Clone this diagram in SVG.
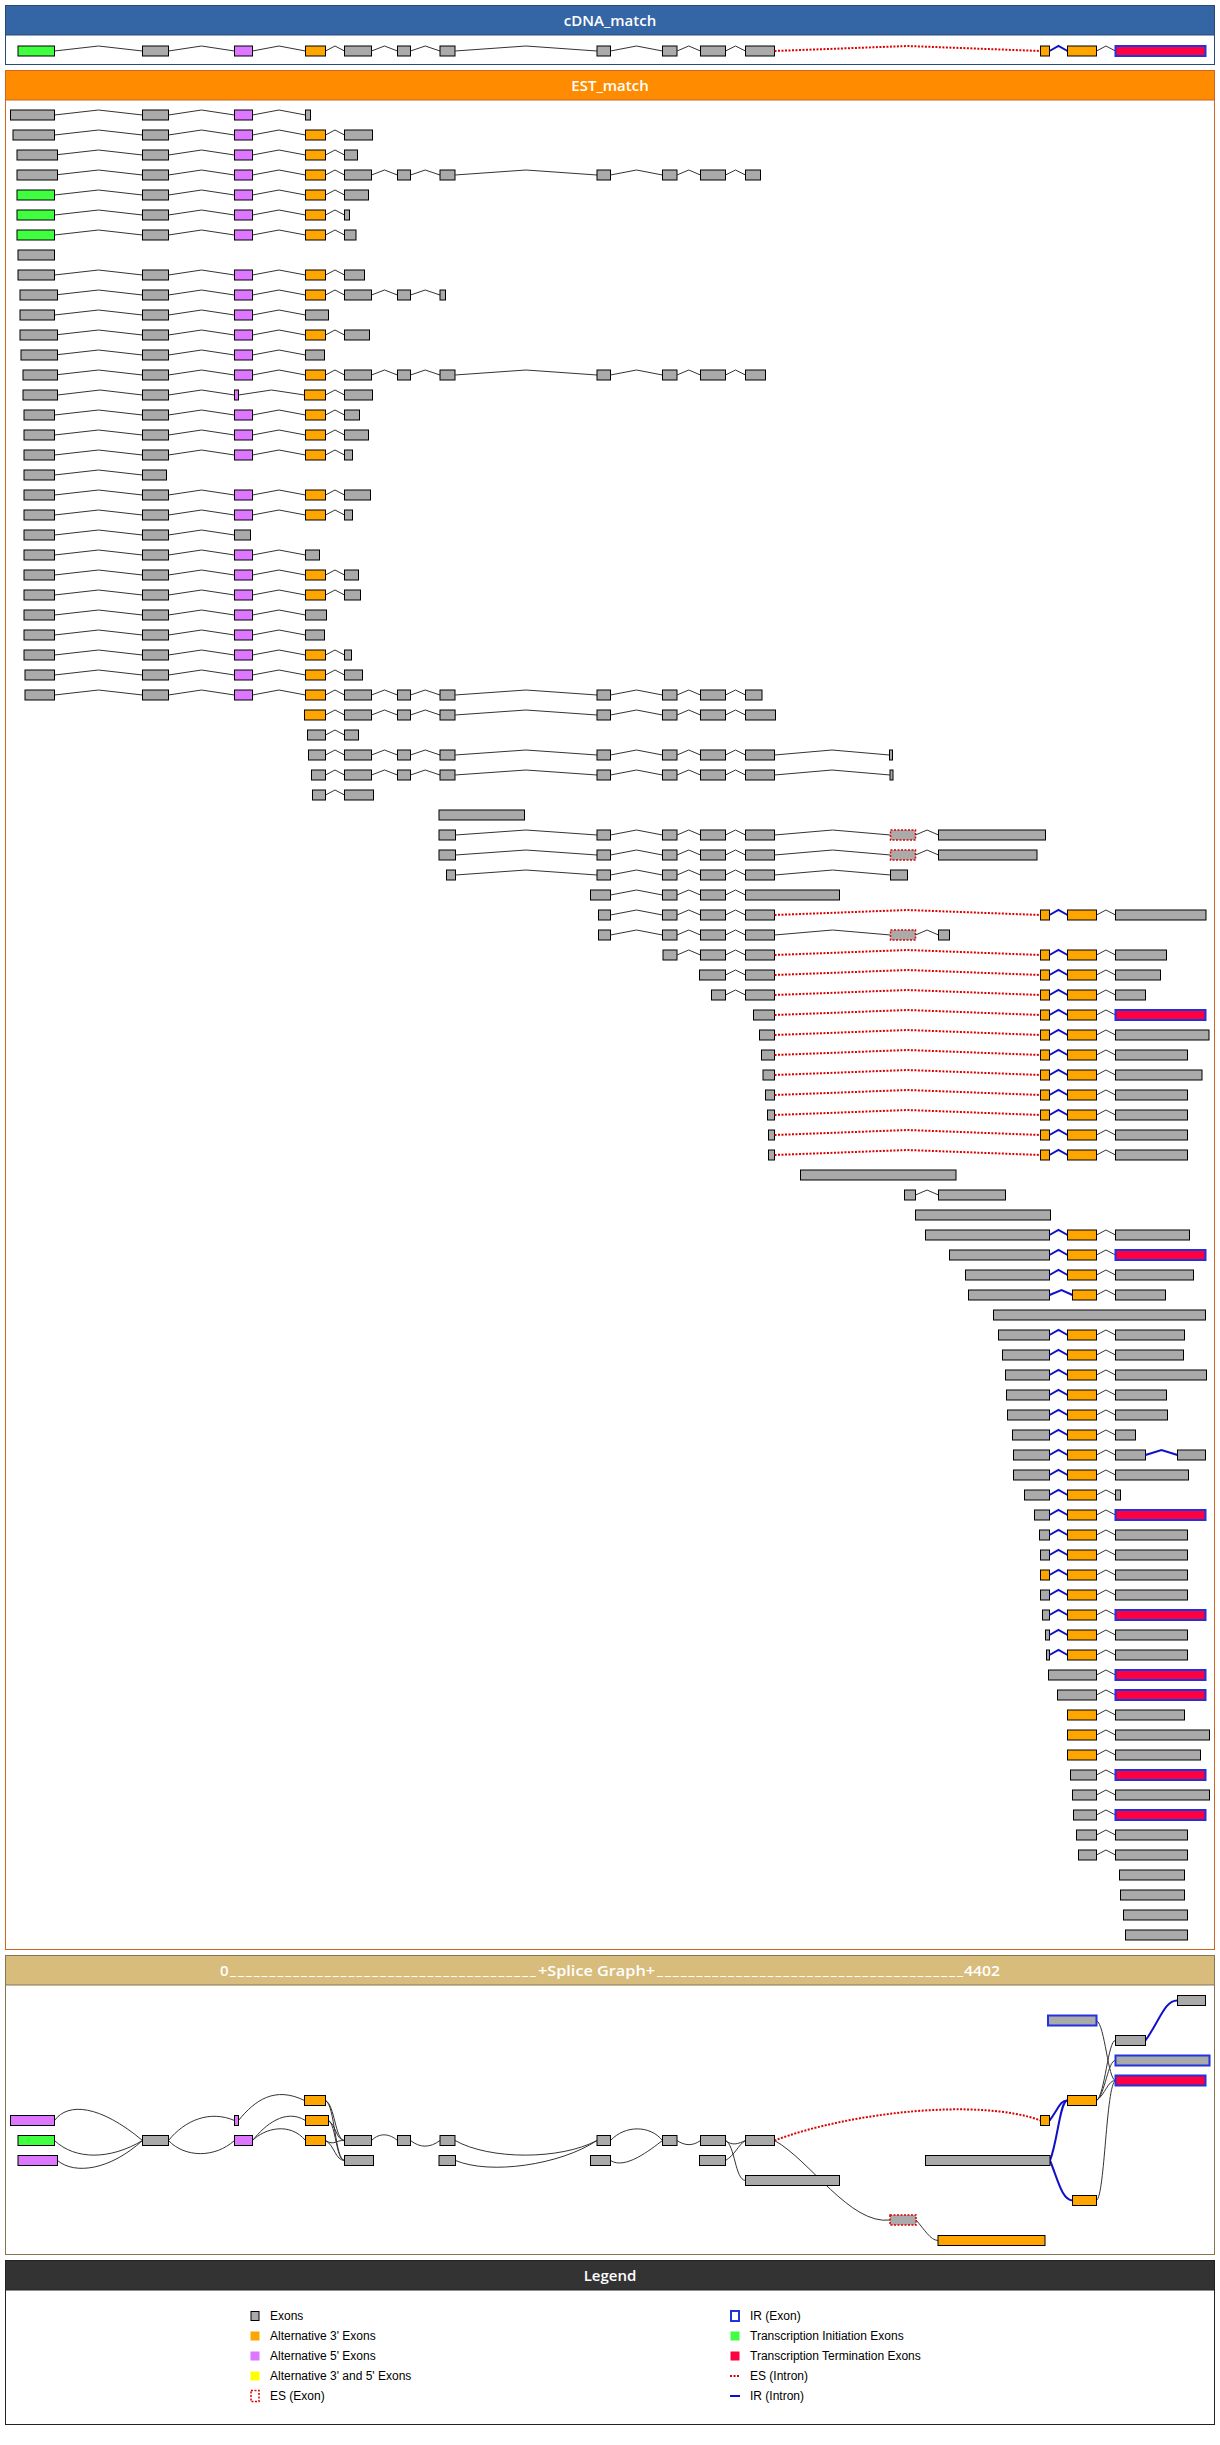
<svg xmlns="http://www.w3.org/2000/svg" width="1220" height="2445" viewBox="0 0 1220 2445">
<style>
.x{fill:#AAAAAA;stroke:#000;stroke-width:1}
.o{fill:#FFA500;stroke:#000;stroke-width:1}
.p{fill:#DD77FF;stroke:#000;stroke-width:1}
.g{fill:#40FF40;stroke:#000;stroke-width:1}
.t{fill:#FF0040;stroke:#2233DD;stroke-width:2}
.ir{fill:#AAAAAA;stroke:#2233DD;stroke-width:2}
.s{fill:#AAAAAA;stroke:#DD0000;stroke-width:1.5;stroke-dasharray:2 1.5}
.i{fill:none;stroke:#333;stroke-width:1}
.b{fill:none;stroke:#1010CC;stroke-width:2}
.r{fill:none;stroke:#DD0000;stroke-width:2;stroke-dasharray:2 1.5}
.h{fill:#fff;font-family:"Open Sans","DejaVu Sans",sans-serif;font-size:15px;font-weight:600;text-anchor:middle}
.l{fill:#000;font-family:"Liberation Sans",Arial,sans-serif;font-size:12px}
</style>
<defs>
<g id="L">
<polyline class="i" points="54.5,0 98.5,-5 142.5,0"/>
<rect class="x" x="142.5" y="-5" width="26" height="10"/>
<polyline class="i" points="168.5,0 201.5,-5 234.5,0"/>
<rect class="p" x="234.5" y="-5" width="18" height="10"/>
<polyline class="i" points="252.5,0 279,-5 305.5,0"/>
</g>
<g id="D">
<rect class="o" x="305.5" y="-5" width="20" height="10"/>
<polyline class="i" points="325.5,0 335,-5 344.5,0"/>
</g>
<polyline id="de" class="i" points="325.5,0 335,-5 344.5,0"/>
<g id="EG">
<rect class="x" x="344.5" y="-5" width="27" height="10"/>
<polyline class="i" points="371.5,0 384.5,-5 397.5,0"/>
<rect class="x" x="397.5" y="-5" width="13" height="10"/>
<polyline class="i" points="410.5,0 425.25,-5 440,0"/>
<rect class="x" x="440" y="-5" width="15" height="10"/>
<polyline class="i" points="455,0 526,-5 597,0"/>
</g>
<g id="IJ">
<polyline class="i" points="610.5,0 636.5,-5 662.5,0"/>
<rect class="x" x="662.5" y="-5" width="14.5" height="10"/>
<polyline class="i" points="677,0 688.75,-5 700.5,0"/>
<rect class="x" x="700.5" y="-5" width="25" height="10"/>
<polyline class="i" points="725.5,0 735.5,-5 745.5,0"/>
</g>
<g id="HJ">
<rect class="x" x="597" y="-5" width="13.5" height="10"/>
<use href="#IJ"/>
</g>
<rect id="K" class="x" x="745.5" y="-5" width="29" height="10"/>
<g id="N">
<polyline class="b" points="1049.5,0 1058.5,-5 1067.5,0"/>
<rect class="o" x="1067.5" y="-5" width="29" height="10"/>
<polyline class="i" points="1096.5,0 1106,-5 1115.5,0"/>
</g>
<g id="T">
<polyline class="r" points="774.5,0 907.5,-5 1040.5,0"/>
<rect class="o" x="1040.5" y="-5" width="9" height="10"/>
<use href="#N"/>
</g>
<polyline id="Bk" class="i" points="1096.5,0 1106,-5 1115.5,0"/>
<rect id="Tm" class="t" x="1115.5" y="-5" width="90" height="10"/>
</defs>

<!-- cDNA panel -->
<g id="cdna-panel">
<rect x="5.5" y="5.5" width="1209" height="59" fill="#fff" stroke="#2A4A78"/>
<rect x="5.5" y="5.5" width="1209" height="29.5" fill="#3465A4" stroke="#2A4A78"/>
<text class="h" x="610" y="25.5">cDNA_match</text>
</g>
<g id="cdna1">
<use href="#L" y="51"/>
<rect class="g" x="18" y="46" width="36.5" height="10"/>
<use href="#D" y="51"/><use href="#EG" y="51"/><use href="#HJ" y="51"/><use href="#K" y="51"/><use href="#T" y="51"/><use href="#Tm" y="51"/>
</g>

<!-- EST panel -->
<g id="est-panel">
<rect x="5.5" y="70.5" width="1209" height="1879" fill="#fff" stroke="#CC6622"/>
<rect x="5.5" y="70.5" width="1209" height="29.5" fill="#FF8C00" stroke="#CC6622"/>
<text class="h" x="610" y="91">EST_match</text>
</g>
<g id="est1"><use href="#L" y="115"/><rect class="x" x="10.5" y="110" width="44" height="10"/><rect class="x" x="305.5" y="110" width="5" height="10"/></g>
<g id="est2"><use href="#L" y="135"/><use href="#D" y="135"/><rect class="x" x="13" y="130" width="41.5" height="10"/><rect class="x" x="344.5" y="130" width="28" height="10"/></g>
<g id="est3"><use href="#L" y="155"/><use href="#D" y="155"/><rect class="x" x="17" y="150" width="40.5" height="10"/><rect class="x" x="344.5" y="150" width="13" height="10"/></g>
<g id="est4"><use href="#L" y="175"/><use href="#D" y="175"/><use href="#EG" y="175"/><use href="#HJ" y="175"/><rect class="x" x="17" y="170" width="40.5" height="10"/><rect class="x" x="745.5" y="170" width="15" height="10"/></g>
<g id="est5"><use href="#L" y="195"/><use href="#D" y="195"/><rect class="g" x="17" y="190" width="37.5" height="10"/><rect class="x" x="344.5" y="190" width="24" height="10"/></g>
<g id="est6"><use href="#L" y="215"/><use href="#D" y="215"/><rect class="g" x="17" y="210" width="37.5" height="10"/><rect class="x" x="344.5" y="210" width="5" height="10"/></g>
<g id="est7"><use href="#L" y="235"/><use href="#D" y="235"/><rect class="g" x="17" y="230" width="37.5" height="10"/><rect class="x" x="344.5" y="230" width="11.5" height="10"/></g>
<g id="est8"><rect class="x" x="18" y="250" width="36.5" height="10"/></g>
<g id="est9"><use href="#L" y="275"/><use href="#D" y="275"/><rect class="x" x="18" y="270" width="36.5" height="10"/><rect class="x" x="344.5" y="270" width="20" height="10"/></g>
<g id="est10"><use href="#L" y="295"/><use href="#D" y="295"/><rect class="x" x="20" y="290" width="37.5" height="10"/><rect class="x" x="344.5" y="290" width="27" height="10"/><polyline class="i" points="371.5,295 384.5,290 397.5,295"/><rect class="x" x="397.5" y="290" width="13" height="10"/><polyline class="i" points="410.5,295 425.25,290 440,295"/><rect class="x" x="440" y="290" width="5.5" height="10"/></g>
<g id="est11"><use href="#L" y="315"/><rect class="x" x="20" y="310" width="34.5" height="10"/><rect class="x" x="305.5" y="310" width="23" height="10"/></g>
<g id="est12"><use href="#L" y="335"/><use href="#D" y="335"/><rect class="x" x="20" y="330" width="37.5" height="10"/><rect class="x" x="344.5" y="330" width="25" height="10"/></g>
<g id="est13"><use href="#L" y="355"/><rect class="x" x="21" y="350" width="36.5" height="10"/><rect class="x" x="305.5" y="350" width="19" height="10"/></g>
<g id="est14"><use href="#L" y="375"/><use href="#D" y="375"/><use href="#EG" y="375"/><use href="#HJ" y="375"/><rect class="x" x="23" y="370" width="34.5" height="10"/><rect class="x" x="745.5" y="370" width="20" height="10"/></g>
<g id="est15"><rect class="x" x="23" y="390" width="34.5" height="10"/><polyline class="i" points="57.5,395 100,390 142.5,395"/><rect class="x" x="142.5" y="390" width="26" height="10"/><polyline class="i" points="168.5,395 201.5,390 234.5,395"/><rect class="p" x="234.5" y="390" width="4" height="10"/><polyline class="i" points="238.5,395 271.5,390 304.5,395"/><rect class="o" x="304.5" y="390" width="21" height="10"/><use href="#de" y="395"/><rect class="x" x="344.5" y="390" width="28" height="10"/></g>
<g id="est16"><use href="#L" y="415"/><use href="#D" y="415"/><rect class="x" x="24" y="410" width="30.5" height="10"/><rect class="x" x="344.5" y="410" width="15" height="10"/></g>
<g id="est17"><use href="#L" y="435"/><use href="#D" y="435"/><rect class="x" x="24" y="430" width="30.5" height="10"/><rect class="x" x="344.5" y="430" width="24" height="10"/></g>
<g id="est18"><use href="#L" y="455"/><use href="#D" y="455"/><rect class="x" x="24" y="450" width="30.5" height="10"/><rect class="x" x="344.5" y="450" width="8" height="10"/></g>
<g id="est19"><rect class="x" x="24" y="470" width="30.5" height="10"/><polyline class="i" points="54.5,475 98.5,470 142.5,475"/><rect class="x" x="142.5" y="470" width="24" height="10"/></g>
<g id="est20"><use href="#L" y="495"/><use href="#D" y="495"/><rect class="x" x="24" y="490" width="30.5" height="10"/><rect class="x" x="344.5" y="490" width="26" height="10"/></g>
<g id="est21"><use href="#L" y="515"/><use href="#D" y="515"/><rect class="x" x="24" y="510" width="30.5" height="10"/><rect class="x" x="344.5" y="510" width="8" height="10"/></g>
<g id="est22"><rect class="x" x="24" y="530" width="30.5" height="10"/><polyline class="i" points="54.5,535 98.5,530 142.5,535"/><rect class="x" x="142.5" y="530" width="26" height="10"/><polyline class="i" points="168.5,535 201.5,530 234.5,535"/><rect class="x" x="234.5" y="530" width="16" height="10"/></g>
<g id="est23"><use href="#L" y="555"/><rect class="x" x="24" y="550" width="30.5" height="10"/><rect class="x" x="305.5" y="550" width="14" height="10"/></g>
<g id="est24"><use href="#L" y="575"/><use href="#D" y="575"/><rect class="x" x="24" y="570" width="30.5" height="10"/><rect class="x" x="344.5" y="570" width="14" height="10"/></g>
<g id="est25"><use href="#L" y="595"/><use href="#D" y="595"/><rect class="x" x="24" y="590" width="30.5" height="10"/><rect class="x" x="344.5" y="590" width="16" height="10"/></g>
<g id="est26"><use href="#L" y="615"/><rect class="x" x="24" y="610" width="30.5" height="10"/><rect class="x" x="305.5" y="610" width="21" height="10"/></g>
<g id="est27"><use href="#L" y="635"/><rect class="x" x="24" y="630" width="30.5" height="10"/><rect class="x" x="305.5" y="630" width="19" height="10"/></g>
<g id="est28"><use href="#L" y="655"/><use href="#D" y="655"/><rect class="x" x="24" y="650" width="30.5" height="10"/><rect class="x" x="344.5" y="650" width="7" height="10"/></g>
<g id="est29"><use href="#L" y="675"/><use href="#D" y="675"/><rect class="x" x="25" y="670" width="29.5" height="10"/><rect class="x" x="344.5" y="670" width="18" height="10"/></g>
<g id="est30"><use href="#L" y="695"/><use href="#D" y="695"/><use href="#EG" y="695"/><use href="#HJ" y="695"/><rect class="x" x="25" y="690" width="29.5" height="10"/><rect class="x" x="745.5" y="690" width="16.5" height="10"/></g>
<g id="est31"><rect class="o" x="304.5" y="710" width="21" height="10"/><use href="#de" y="715"/><use href="#EG" y="715"/><use href="#HJ" y="715"/><rect class="x" x="745.5" y="710" width="30" height="10"/></g>
<g id="est32"><rect class="x" x="307.5" y="730" width="18" height="10"/><use href="#de" y="735"/><rect class="x" x="344.5" y="730" width="14" height="10"/></g>
<g id="est33"><rect class="x" x="308.5" y="750" width="17" height="10"/><use href="#de" y="755"/><use href="#EG" y="755"/><use href="#HJ" y="755"/><use href="#K" y="755"/><polyline class="i" points="774.5,755 832,750 889.5,755"/><rect class="x" x="889.5" y="750" width="3" height="10"/></g>
<g id="est34"><rect class="x" x="311.5" y="770" width="14" height="10"/><use href="#de" y="775"/><use href="#EG" y="775"/><use href="#HJ" y="775"/><use href="#K" y="775"/><polyline class="i" points="774.5,775 832,770 890,775"/><rect class="x" x="890" y="770" width="3" height="10"/></g>
<g id="est35"><rect class="x" x="312.5" y="790" width="13" height="10"/><use href="#de" y="795"/><rect class="x" x="344.5" y="790" width="29" height="10"/></g>
<g id="est36"><rect class="x" x="439" y="810" width="85.5" height="10"/></g>
<g id="est37"><rect class="x" x="439" y="830" width="16.5" height="10"/><polyline class="i" points="455.5,835 526,830 597,835"/><use href="#HJ" y="835"/><use href="#K" y="835"/><polyline class="i" points="774.5,835 832.5,830 890.5,835"/><rect class="s" x="890.5" y="830" width="25" height="10"/><polyline class="i" points="915.5,835 927,830 938.5,835"/><rect class="x" x="938.5" y="830" width="107" height="10"/></g>
<g id="est38"><rect class="x" x="439" y="850" width="16.5" height="10"/><polyline class="i" points="455.5,855 526,850 597,855"/><use href="#HJ" y="855"/><use href="#K" y="855"/><polyline class="i" points="774.5,855 832.5,850 890.5,855"/><rect class="s" x="890.5" y="850" width="25" height="10"/><polyline class="i" points="915.5,855 927,850 938.5,855"/><rect class="x" x="938.5" y="850" width="98.5" height="10"/></g>
<g id="est39"><rect class="x" x="446.5" y="870" width="9" height="10"/><polyline class="i" points="455.5,875 526,870 597,875"/><use href="#HJ" y="875"/><use href="#K" y="875"/><polyline class="i" points="774.5,875 832.5,870 890.5,875"/><rect class="x" x="890.5" y="870" width="17" height="10"/></g>
<g id="est40"><rect class="x" x="590.5" y="890" width="20" height="10"/><use href="#IJ" y="895"/><rect class="x" x="745.5" y="890" width="94" height="10"/></g>
<g id="est41"><rect class="x" x="598.5" y="910" width="12" height="10"/><use href="#IJ" y="915"/><use href="#K" y="915"/><use href="#T" y="915"/><rect class="x" x="1115.5" y="910" width="90.5" height="10"/></g>
<g id="est42"><rect class="x" x="598.5" y="930" width="12" height="10"/><use href="#IJ" y="935"/><use href="#K" y="935"/><polyline class="i" points="774.5,935 832.5,930 890.5,935"/><rect class="s" x="890.5" y="930" width="25" height="10"/><polyline class="i" points="915.5,935 927,930 938.5,935"/><rect class="x" x="938.5" y="930" width="11" height="10"/></g>
<g id="est43"><rect class="x" x="663" y="950" width="14" height="10"/><polyline class="i" points="677,955 688.75,950 700.5,955"/><rect class="x" x="700.5" y="950" width="25" height="10"/><polyline class="i" points="725.5,955 735.5,950 745.5,955"/><use href="#K" y="955"/><use href="#T" y="955"/><rect class="x" x="1115.5" y="950" width="51" height="10"/></g>
<g id="est44"><rect class="x" x="699.5" y="970" width="26" height="10"/><polyline class="i" points="725.5,975 735.5,970 745.5,975"/><use href="#K" y="975"/><use href="#T" y="975"/><rect class="x" x="1115.5" y="970" width="45" height="10"/></g>
<g id="est45"><rect class="x" x="711.5" y="990" width="14" height="10"/><polyline class="i" points="725.5,995 735.5,990 745.5,995"/><use href="#K" y="995"/><use href="#T" y="995"/><rect class="x" x="1115.5" y="990" width="30" height="10"/></g>
<g id="est46"><rect class="x" x="753.5" y="1010" width="21" height="10"/><use href="#T" y="1015"/><use href="#Tm" y="1015"/></g>
<g id="est47"><rect class="x" x="759.5" y="1030" width="15" height="10"/><use href="#T" y="1035"/><rect class="x" x="1115.5" y="1030" width="93.5" height="10"/></g>
<g id="est48"><rect class="x" x="761.5" y="1050" width="13" height="10"/><use href="#T" y="1055"/><rect class="x" x="1115.5" y="1050" width="72" height="10"/></g>
<g id="est49"><rect class="x" x="763" y="1070" width="11.5" height="10"/><use href="#T" y="1075"/><rect class="x" x="1115.5" y="1070" width="86.5" height="10"/></g>
<g id="est50"><rect class="x" x="765.5" y="1090" width="9" height="10"/><use href="#T" y="1095"/><rect class="x" x="1115.5" y="1090" width="72" height="10"/></g>
<g id="est51"><rect class="x" x="767.5" y="1110" width="7" height="10"/><use href="#T" y="1115"/><rect class="x" x="1115.5" y="1110" width="72" height="10"/></g>
<g id="est52"><rect class="x" x="768.5" y="1130" width="6" height="10"/><use href="#T" y="1135"/><rect class="x" x="1115.5" y="1130" width="72" height="10"/></g>
<g id="est53"><rect class="x" x="768.5" y="1150" width="6" height="10"/><use href="#T" y="1155"/><rect class="x" x="1115.5" y="1150" width="72" height="10"/></g>
<g id="est54"><rect class="x" x="800.5" y="1170" width="155.5" height="10"/></g>
<g id="est55"><rect class="x" x="904.5" y="1190" width="11" height="10"/><polyline class="i" points="915.5,1195 927,1190 938.5,1195"/><rect class="x" x="938.5" y="1190" width="67" height="10"/></g>
<g id="est56"><rect class="x" x="915.5" y="1210" width="135" height="10"/></g>
<g id="est57"><rect class="x" x="925.5" y="1230" width="124" height="10"/><use href="#N" y="1235"/><rect class="x" x="1115.5" y="1230" width="74" height="10"/></g>
<g id="est58"><rect class="x" x="949.5" y="1250" width="100" height="10"/><use href="#N" y="1255"/><use href="#Tm" y="1255"/></g>
<g id="est59"><rect class="x" x="965.5" y="1270" width="84" height="10"/><use href="#N" y="1275"/><rect class="x" x="1115.5" y="1270" width="78" height="10"/></g>
<g id="est60"><rect class="x" x="968.5" y="1290" width="81" height="10"/><polyline class="b" points="1049.5,1295 1061.5,1290 1072.5,1295"/><rect class="o" x="1072.5" y="1290" width="24" height="10"/><use href="#Bk" y="1295"/><rect class="x" x="1115.5" y="1290" width="50" height="10"/></g>
<g id="est61"><rect class="x" x="993.5" y="1310" width="212" height="10"/></g>
<g id="est62"><rect class="x" x="998.5" y="1330" width="51" height="10"/><use href="#N" y="1335"/><rect class="x" x="1115.5" y="1330" width="69" height="10"/></g>
<g id="est63"><rect class="x" x="1002.5" y="1350" width="47" height="10"/><use href="#N" y="1355"/><rect class="x" x="1115.5" y="1350" width="68" height="10"/></g>
<g id="est64"><rect class="x" x="1005.5" y="1370" width="44" height="10"/><use href="#N" y="1375"/><rect class="x" x="1115.5" y="1370" width="91" height="10"/></g>
<g id="est65"><rect class="x" x="1006.5" y="1390" width="43" height="10"/><use href="#N" y="1395"/><rect class="x" x="1115.5" y="1390" width="51" height="10"/></g>
<g id="est66"><rect class="x" x="1007.5" y="1410" width="42" height="10"/><use href="#N" y="1415"/><rect class="x" x="1115.5" y="1410" width="52" height="10"/></g>
<g id="est67"><rect class="x" x="1012.5" y="1430" width="37" height="10"/><use href="#N" y="1435"/><rect class="x" x="1115.5" y="1430" width="20" height="10"/></g>
<g id="est68"><rect class="x" x="1013.5" y="1450" width="36" height="10"/><use href="#N" y="1455"/><rect class="x" x="1115.5" y="1450" width="30" height="10"/><polyline class="b" points="1145.5,1455 1161.5,1450 1177.5,1455"/><rect class="x" x="1177.5" y="1450" width="28" height="10"/></g>
<g id="est69"><rect class="x" x="1013.5" y="1470" width="36" height="10"/><use href="#N" y="1475"/><rect class="x" x="1115.5" y="1470" width="73" height="10"/></g>
<g id="est70"><rect class="x" x="1024.5" y="1490" width="25" height="10"/><use href="#N" y="1495"/><rect class="x" x="1115.5" y="1490" width="5" height="10"/></g>
<g id="est71"><rect class="x" x="1034.5" y="1510" width="15" height="10"/><use href="#N" y="1515"/><use href="#Tm" y="1515"/></g>
<g id="est72"><rect class="x" x="1039.5" y="1530" width="10" height="10"/><use href="#N" y="1535"/><rect class="x" x="1115.5" y="1530" width="72" height="10"/></g>
<g id="est73"><rect class="x" x="1040.5" y="1550" width="9" height="10"/><use href="#N" y="1555"/><rect class="x" x="1115.5" y="1550" width="72" height="10"/></g>
<g id="est74"><rect class="o" x="1040.5" y="1570" width="9" height="10"/><use href="#N" y="1575"/><rect class="x" x="1115.5" y="1570" width="72" height="10"/></g>
<g id="est75"><rect class="x" x="1040.5" y="1590" width="9" height="10"/><use href="#N" y="1595"/><rect class="x" x="1115.5" y="1590" width="72" height="10"/></g>
<g id="est76"><rect class="x" x="1042.5" y="1610" width="7" height="10"/><use href="#N" y="1615"/><use href="#Tm" y="1615"/></g>
<g id="est77"><rect class="x" x="1045.5" y="1630" width="4" height="10"/><use href="#N" y="1635"/><rect class="x" x="1115.5" y="1630" width="72" height="10"/></g>
<g id="est78"><rect class="x" x="1046.5" y="1650" width="3" height="10"/><use href="#N" y="1655"/><rect class="x" x="1115.5" y="1650" width="72" height="10"/></g>
<g id="est79"><rect class="x" x="1048.5" y="1670" width="48" height="10"/><use href="#Bk" y="1675"/><use href="#Tm" y="1675"/></g>
<g id="est80"><rect class="x" x="1057.5" y="1690" width="39" height="10"/><use href="#Bk" y="1695"/><use href="#Tm" y="1695"/></g>
<g id="est81"><rect class="o" x="1067.5" y="1710" width="29" height="10"/><use href="#Bk" y="1715"/><rect class="x" x="1115.5" y="1710" width="69" height="10"/></g>
<g id="est82"><rect class="o" x="1067.5" y="1730" width="29" height="10"/><use href="#Bk" y="1735"/><rect class="x" x="1115.5" y="1730" width="94" height="10"/></g>
<g id="est83"><rect class="o" x="1067.5" y="1750" width="29" height="10"/><use href="#Bk" y="1755"/><rect class="x" x="1115.5" y="1750" width="85" height="10"/></g>
<g id="est84"><rect class="x" x="1070.5" y="1770" width="26" height="10"/><use href="#Bk" y="1775"/><use href="#Tm" y="1775"/></g>
<g id="est85"><rect class="x" x="1072.5" y="1790" width="24" height="10"/><use href="#Bk" y="1795"/><rect class="x" x="1115.5" y="1790" width="94" height="10"/></g>
<g id="est86"><rect class="x" x="1073.5" y="1810" width="23" height="10"/><use href="#Bk" y="1815"/><use href="#Tm" y="1815"/></g>
<g id="est87"><rect class="x" x="1076.5" y="1830" width="20" height="10"/><use href="#Bk" y="1835"/><rect class="x" x="1115.5" y="1830" width="72" height="10"/></g>
<g id="est88"><rect class="x" x="1078.5" y="1850" width="18" height="10"/><use href="#Bk" y="1855"/><rect class="x" x="1115.5" y="1850" width="72" height="10"/></g>
<g id="est89"><rect class="x" x="1119.5" y="1870" width="65" height="10"/></g>
<g id="est90"><rect class="x" x="1120.5" y="1890" width="64" height="10"/></g>
<g id="est91"><rect class="x" x="1123.5" y="1910" width="64" height="10"/></g>
<g id="est92"><rect class="x" x="1125.5" y="1930" width="62" height="10"/></g>

<!-- Splice graph panel -->
<g id="sg-panel">
<rect x="5.5" y="1955.5" width="1209" height="299" fill="#fff" stroke="#857550"/>
<rect x="5.5" y="1955.5" width="1209" height="29.5" fill="#D8BC7C" stroke="#857550"/>
<text class="h" y="1976" style="text-anchor:start"><tspan x="220">0</tspan><tspan x="230" dy="-1.5" font-size="14" textLength="306" lengthAdjust="spacing">_______________________________________</tspan><tspan x="538" dy="1.5" textLength="117" lengthAdjust="spacingAndGlyphs">+Splice Graph+</tspan><tspan x="657" dy="-1.5" font-size="14" textLength="306" lengthAdjust="spacing">_______________________________________</tspan><tspan x="964" dy="1.5" textLength="36" lengthAdjust="spacingAndGlyphs">4402</tspan></text>
</g>
<g id="sg-edges">
<path class="i" d="M54.5,2120.5 C68,2102 100,2105 142.5,2140.5"/>
<path class="i" d="M54.5,2140.5 C75,2160 110,2160 142.5,2140.5"/>
<path class="i" d="M57.5,2160.5 C75,2175 110,2170 142.5,2140.5"/>
<path class="i" d="M168.5,2140.5 C185,2120 210,2110 234.5,2120.5"/>
<path class="i" d="M168.5,2140.5 C185,2158 215,2158 234.5,2140.5"/>
<path class="i" d="M238.5,2120.5 C255,2100 275,2086 304.5,2100.5"/>
<path class="i" d="M252.5,2140.5 C265,2125 285,2108 305.5,2120.5"/>
<path class="i" d="M252.5,2140.5 C265,2128 290,2122 305.5,2140.5"/>
<path class="i" d="M325.5,2100.5 C335,2105 335,2140 344.5,2140.5"/>
<path class="i" d="M325.5,2100.5 C335,2105 335,2160 344.5,2160.5"/>
<path class="i" d="M328.5,2120.5 C336,2125 336,2140 344.5,2140.5"/>
<path class="i" d="M328.5,2120.5 C336,2125 336,2160 344.5,2160.5"/>
<path class="i" d="M325.5,2140.5 C335,2146 335,2140 344.5,2140.5"/>
<path class="i" d="M325.5,2140.5 C335,2146 335,2160 344.5,2160.5"/>
<path class="i" d="M371.5,2140.5 C380,2132 390,2134 397.5,2140.5"/>
<path class="i" d="M410.5,2140.5 C420,2148 430,2148 440,2140.5"/>
<path class="i" d="M455,2140.5 C490,2160 560,2160 597,2140.5"/>
<path class="i" d="M455.5,2160.5 C490,2175 560,2165 597,2140.5"/>
<path class="i" d="M610.5,2140.5 C625,2125 650,2125 662.5,2140.5"/>
<path class="i" d="M610.5,2160.5 C625,2170 650,2150 662.5,2140.5"/>
<path class="i" d="M677,2140.5 C685,2146 693,2146 700.5,2140.5"/>
<path class="i" d="M725.5,2140.5 C732,2146 738,2144 745.5,2140.5"/>
<path class="i" d="M725.5,2160.5 C735,2155 738,2145 745.5,2140.5"/>
<path class="i" d="M725.5,2140.5 C735,2145 735,2180 745.5,2180.5"/>
<path class="r" d="M774.5,2140.5 C850,2112 980,2098 1040.5,2120.5"/>
<path class="i" d="M774.5,2140.5 C810,2160 850,2225 890,2220"/>
<path class="i" d="M916,2220 C925,2230 930,2240 938,2240.5"/>
<path class="b" d="M1049.5,2120.5 C1058,2110 1060,2100 1067.5,2100.5"/>
<path class="b" d="M1050,2160.5 C1058,2140 1060,2100 1067.5,2100.5"/>
<path class="b" d="M1050,2160.5 C1058,2180 1062,2200 1072.5,2200.5"/>
<path class="i" d="M1096.5,2020.5 C1105,2025 1108,2080 1115.5,2080.5"/>
<path class="i" d="M1096.5,2100.5 C1105,2095 1108,2040 1115.5,2040.5"/>
<path class="i" d="M1096.5,2100.5 C1105,2095 1108,2060 1115.5,2060.5"/>
<path class="i" d="M1096.5,2100.5 C1105,2095 1108,2080 1115.5,2080.5"/>
<path class="i" d="M1096.5,2200.5 C1105,2195 1106,2085 1115.5,2080.5"/>
<path class="b" d="M1145.5,2040.5 C1160,2020 1165,2000 1177.5,2000.5"/>
</g>
<g id="sg1"><rect class="p" x="10.5" y="2115.5" width="44" height="10"/></g>
<g id="sg2"><rect class="g" x="18" y="2135.5" width="36.5" height="10"/></g>
<g id="sg3"><rect class="p" x="18" y="2155.5" width="39.5" height="10"/></g>
<g id="sg4"><rect class="x" x="142.5" y="2135.5" width="26" height="10"/></g>
<g id="sg5"><rect class="p" x="234.5" y="2115.5" width="4" height="10"/></g>
<g id="sg6"><rect class="p" x="234.5" y="2135.5" width="18" height="10"/></g>
<g id="sg7"><rect class="o" x="304.5" y="2095.5" width="21" height="10"/></g>
<g id="sg8"><rect class="o" x="305.5" y="2115.5" width="23" height="10"/></g>
<g id="sg9"><rect class="o" x="305.5" y="2135.5" width="20" height="10"/></g>
<g id="sg10"><rect class="x" x="344.5" y="2135.5" width="27" height="10"/></g>
<g id="sg11"><rect class="x" x="344.5" y="2155.5" width="29" height="10"/></g>
<g id="sg12"><rect class="x" x="397.5" y="2135.5" width="13" height="10"/></g>
<g id="sg13"><rect class="x" x="440" y="2135.5" width="15" height="10"/></g>
<g id="sg14"><rect class="x" x="439" y="2155.5" width="16.5" height="10"/></g>
<g id="sg15"><rect class="x" x="597" y="2135.5" width="13.5" height="10"/></g>
<g id="sg16"><rect class="x" x="590.5" y="2155.5" width="20" height="10"/></g>
<g id="sg17"><rect class="x" x="662.5" y="2135.5" width="14.5" height="10"/></g>
<g id="sg18"><rect class="x" x="700.5" y="2135.5" width="25" height="10"/></g>
<g id="sg19"><rect class="x" x="699.5" y="2155.5" width="26" height="10"/></g>
<g id="sg20"><rect class="x" x="745.5" y="2135.5" width="29" height="10"/></g>
<g id="sg21"><rect class="x" x="745.5" y="2175.5" width="94" height="10"/></g>
<g id="sg22"><rect class="s" x="890" y="2215" width="26" height="10"/></g>
<g id="sg23"><rect class="o" x="938" y="2235.5" width="107" height="10"/></g>
<g id="sg24"><rect class="x" x="925.5" y="2155.5" width="124.5" height="10"/></g>
<g id="sg25"><rect class="o" x="1040.5" y="2115.5" width="9" height="10"/></g>
<g id="sg26"><rect class="o" x="1067.5" y="2095.5" width="29" height="10"/></g>
<g id="sg27"><rect class="o" x="1072.5" y="2195.5" width="24" height="10"/></g>
<g id="sg28"><rect class="ir" x="1048" y="2015.5" width="48.5" height="10"/></g>
<g id="sg29"><rect class="x" x="1115.5" y="2035.5" width="30" height="10"/></g>
<g id="sg30"><rect class="x" x="1177.5" y="1995.5" width="28" height="10"/></g>
<g id="sg31"><rect class="ir" x="1115.5" y="2055.5" width="94" height="10"/></g>
<g id="sg32"><rect class="t" x="1115.5" y="2075.5" width="90" height="10"/></g>

<!-- Legend -->
<g id="legend">
<rect x="5.5" y="2260.5" width="1209" height="164" fill="#fff" stroke="#222"/>
<rect x="5.5" y="2260.5" width="1209" height="29.5" fill="#333333" stroke="#222"/>
<text class="h" x="610" y="2281">Legend</text>
<rect x="251" y="2311.5" width="8" height="9" fill="#AAAAAA" stroke="#000"/>
<text class="l" x="270" y="2320">Exons</text>
<rect x="250.5" y="2331.5" width="9" height="9" fill="#FFA500"/>
<text class="l" x="270" y="2340">Alternative 3' Exons</text>
<rect x="250.5" y="2351.5" width="9" height="9" fill="#DD77FF"/>
<text class="l" x="270" y="2360">Alternative 5' Exons</text>
<rect x="250.5" y="2371.5" width="9" height="9" fill="#FFFF00"/>
<text class="l" x="270" y="2380">Alternative 3' and 5' Exons</text>
<rect x="251" y="2390.5" width="8" height="11" fill="#fff" stroke="#DD0000" stroke-width="1.5" stroke-dasharray="2 1.5"/>
<text class="l" x="270" y="2400">ES (Exon)</text>
<rect x="731" y="2311" width="8" height="10" fill="#fff" stroke="#2233DD" stroke-width="2"/>
<text class="l" x="750" y="2320">IR (Exon)</text>
<rect x="730.5" y="2331.5" width="9" height="9" fill="#40FF40"/>
<text class="l" x="750" y="2340">Transcription Initiation Exons</text>
<rect x="730.5" y="2351.5" width="9" height="9" fill="#FF0040"/>
<text class="l" x="750" y="2360">Transcription Termination Exons</text>
<line x1="730" y1="2376" x2="740" y2="2376" stroke="#DD0000" stroke-width="2" stroke-dasharray="2 1.5"/>
<text class="l" x="750" y="2380">ES (Intron)</text>
<line x1="730" y1="2396" x2="740" y2="2396" stroke="#1010CC" stroke-width="2"/>
<text class="l" x="750" y="2400">IR (Intron)</text>
</g>
</svg>
